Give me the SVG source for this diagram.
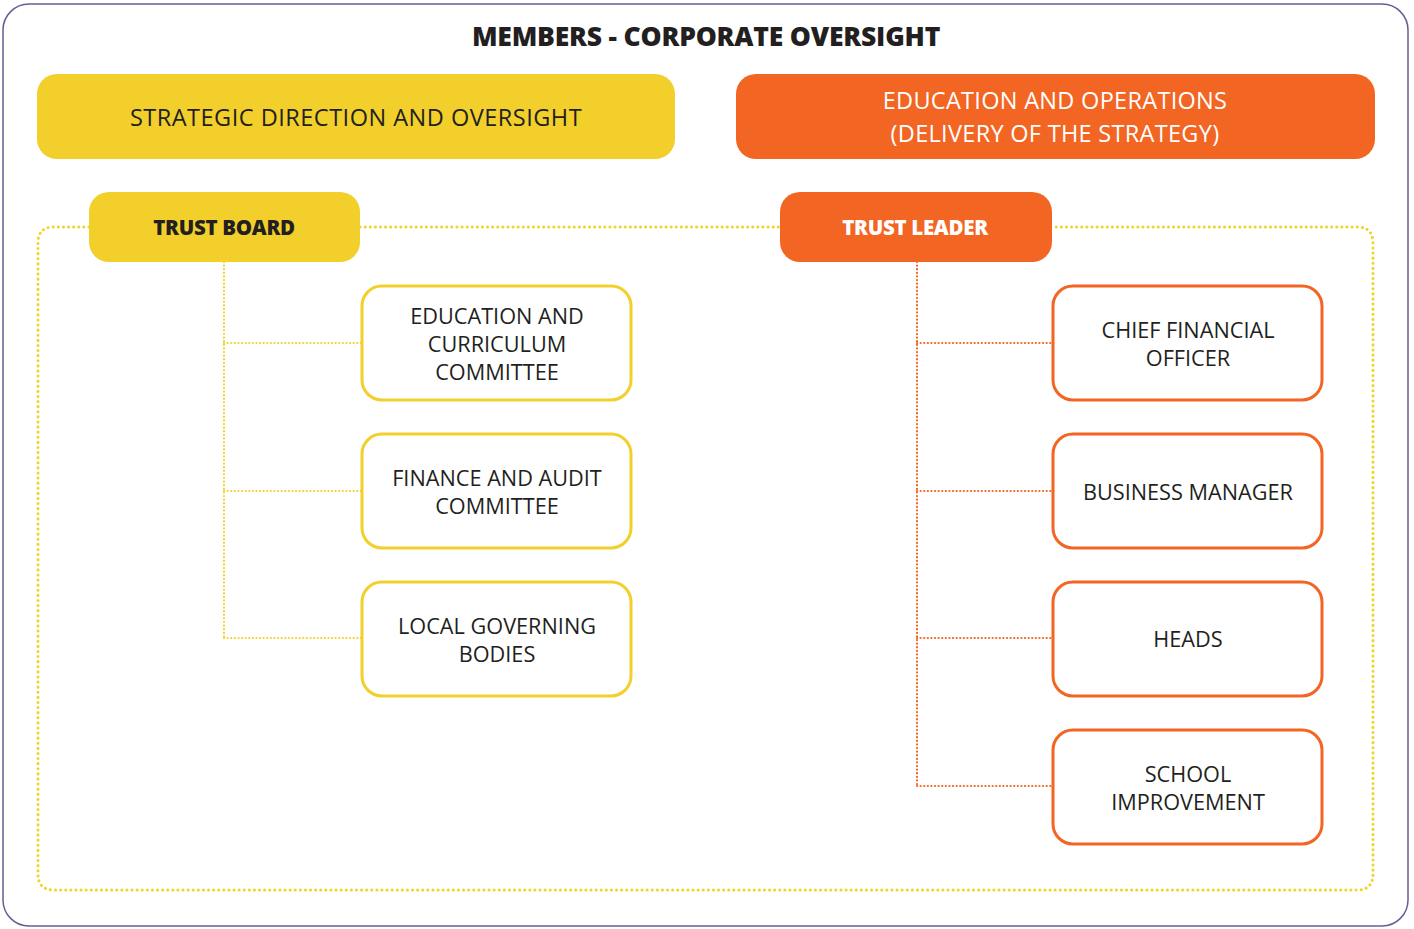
<svg xmlns="http://www.w3.org/2000/svg" width="1414" height="929" viewBox="0 0 1414 929">
<style>
text{font-family:"Open Sans","Liberation Sans",sans-serif;text-anchor:middle;dominant-baseline:central}
.t{font-size:21.7px;fill:#231f20}
.w{font-size:23.5px;fill:#ffffff;letter-spacing:0.3px}
.b{font-weight:800;font-size:20.5px;letter-spacing:-0.3px}
.yfill{fill:#f2cf2b}
.ofill{fill:#f26523}
.ybox{fill:#ffffff;stroke:#f2cf2b;stroke-width:3}
.obox{fill:#ffffff;stroke:#f26523;stroke-width:3}
.ydot{fill:none;stroke:#f2d32a;stroke-width:3;stroke-dasharray:0.1 5;stroke-linecap:round}
.ydot2{fill:none;stroke:#f2d32a;stroke-width:2.2;stroke-dasharray:0.1 3.5;stroke-linecap:round}
.odot{fill:none;stroke:#f26523;stroke-width:2.2;stroke-dasharray:0.1 3.5;stroke-linecap:round}
</style>
<rect x="3" y="4" width="1405" height="922" rx="26" fill="#ffffff" stroke="#6b5b95" stroke-width="1.5"/>
<text x="706" y="36" style="font-size:26.5px;font-weight:800;fill:#231f20;letter-spacing:-0.2px">MEMBERS - CORPORATE OVERSIGHT</text>

<g id="connectors">
<path class="ydot" d="M89 227 H54 Q38 227 38 243 V874 Q38 890 54 890 H1357 Q1373 890 1373 874 V243 Q1373 227 1357 227 H1052"/>
<path class="ydot" d="M360 227 H780"/>
<path class="ydot2" d="M224 262 V638 M224 343 H362 M224 491 H362 M224 638 H362"/>
<path class="odot" d="M917 262 V786 M917 343 H1053 M917 491 H1053 M917 638 H1053 M917 786 H1053"/>
</g>

<g id="strategic">
<rect class="yfill" x="37" y="74" width="638" height="85" rx="20"/>
<text class="t" x="356" y="117" style="font-size:23.5px;letter-spacing:0.5px">STRATEGIC DIRECTION AND OVERSIGHT</text>
</g>
<g id="education-operations">
<rect class="ofill" x="736" y="74" width="639" height="85" rx="20"/>
<text class="w" x="1055" y="100">EDUCATION AND OPERATIONS</text>
<text class="w" x="1055" y="133">(DELIVERY OF THE STRATEGY)</text>
</g>
<g id="trust-board">
<rect class="yfill" x="89" y="192" width="271" height="70" rx="20"/>
<text class="b" x="224" y="227" style="fill:#231f20">TRUST BOARD</text>
</g>
<g id="trust-leader">
<rect class="ofill" x="780" y="192" width="272" height="70" rx="20"/>
<text class="b" x="915" y="227" style="fill:#ffffff">TRUST LEADER</text>
</g>

<g id="edu-curriculum">
<rect class="ybox" x="362" y="286" width="269" height="114" rx="20"/>
<text class="t" x="497" y="315">EDUCATION AND</text>
<text class="t" x="497" y="343">CURRICULUM</text>
<text class="t" x="497" y="371">COMMITTEE</text>
</g>
<g id="finance-audit">
<rect class="ybox" x="362" y="434" width="269" height="114" rx="20"/>
<text class="t" x="497" y="477">FINANCE AND AUDIT</text>
<text class="t" x="497" y="505">COMMITTEE</text>
</g>
<g id="local-governing">
<rect class="ybox" x="362" y="582" width="269" height="114" rx="20"/>
<text class="t" x="497" y="625">LOCAL GOVERNING</text>
<text class="t" x="497" y="653">BODIES</text>
</g>

<g id="cfo">
<rect class="obox" x="1053" y="286" width="269" height="114" rx="20"/>
<text class="t" x="1188" y="329">CHIEF FINANCIAL</text>
<text class="t" x="1188" y="357">OFFICER</text>
</g>
<g id="business-manager">
<rect class="obox" x="1053" y="434" width="269" height="114" rx="20"/>
<text class="t" x="1188" y="491">BUSINESS MANAGER</text>
</g>
<g id="heads">
<rect class="obox" x="1053" y="582" width="269" height="114" rx="20"/>
<text class="t" x="1188" y="638">HEADS</text>
</g>
<g id="school-improvement">
<rect class="obox" x="1053" y="730" width="269" height="114" rx="20"/>
<text class="t" x="1188" y="773">SCHOOL</text>
<text class="t" x="1188" y="801">IMPROVEMENT</text>
</g>
</svg>
